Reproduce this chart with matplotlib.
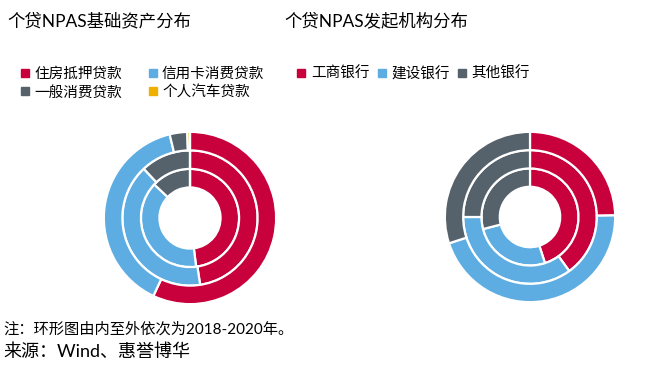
import matplotlib
matplotlib.use("Agg")
import matplotlib.pyplot as plt
from matplotlib.lines import Line2D

plt.rcParams['font.family'] = ['Lato', 'Noto Sans CJK SC', 'DejaVu Sans']

# ---------------- data ----------------
asset_labels = ['住房抵押贷款', '信用卡消费贷款', '一般消费贷款', '个人汽车贷款']
asset_2018 = [48.0, 39.0, 13.0, 0.0]
asset_2019 = [47.6, 40.4, 12.0, 0.0]
asset_2020 = [57.0, 39.2, 3.3, 0.5]

bank_labels = ['工商银行', '建设银行', '其他银行']
bank_2018 = [45.0, 26.0, 29.0]
bank_2019 = [40.0, 35.0, 25.0]
bank_2020 = [24.7, 45.3, 30.0]

asset_colors = ['#C8003C', '#5DADE2', '#56626B', '#F0B000']
bank_colors = ['#C8003C', '#5DADE2', '#56626B']

W, H = 672, 373
fig = plt.figure(figsize=(W / 100, H / 100), dpi=100)


def donut(cx, cy, r, years, colors):
    ax = fig.add_axes([(cx - r) / W, (H - cy - r) / H, 2 * r / W, 2 * r / H])
    ring = 0.215
    radii = [1 - 2 * ring, 1 - ring, 1.0]  # inner -> outer: 2018..2020
    for vals, rad in zip(years, radii):
        ax.pie(vals, radius=rad, colors=colors, startangle=90, counterclock=False,
               wedgeprops=dict(width=ring, edgecolor='white', linewidth=1.6))
    ax.set_xlim(-1.01, 1.01)
    ax.set_ylim(-1.01, 1.01)
    ax.set_aspect('equal')
    ax.axis('off')
    return ax


donut(190, 218, 87, [asset_2018, asset_2019, asset_2020], asset_colors)
donut(530, 217, 86, [bank_2018, bank_2019, bank_2020], bank_colors)

# titles
fig.text(7 / W, 1 - 21 / H, '个贷NPAS基础资产分布', fontsize=12.5, va='center', ha='left')
fig.text(284 / W, 1 - 21 / H, '个贷NPAS发起机构分布', fontsize=12.5, va='center', ha='left')

# legends
def handles(colors):
    return [Line2D([], [], ls='none', marker='s', markersize=5.5, color=c) for c in colors]

# legend fills column by column -> reorder so rows read left to right
order = [0, 2, 1, 3]
lg1 = fig.legend([handles(asset_colors)[i] for i in order], [asset_labels[i] for i in order],
                 ncol=2, loc='upper left',
                 bbox_to_anchor=(21 / W, 1 - 67 / H), frameon=False, fontsize=10.5,
                 handlelength=0.6, handletextpad=0.35, columnspacing=1.75,
                 labelspacing=0.3, borderaxespad=0, borderpad=0)
lg2 = fig.legend(handles(bank_colors), bank_labels, ncol=3, loc='upper left',
                 bbox_to_anchor=(297 / W, 1 - 67 / H), frameon=False, fontsize=10.5,
                 handlelength=0.6, handletextpad=0.35, columnspacing=0.55,
                 borderaxespad=0, borderpad=0)

# notes
fig.text(3 / W, 1 - 329 / H, '注：环形图由内至外依次为2018-2020年。', fontsize=11, va='center', ha='left')
fig.text(3 / W, 1 - 352 / H, '来源：Wind、惠誉博华', fontsize=13, va='center', ha='left')

fig.savefig('out.png', dpi=100)
